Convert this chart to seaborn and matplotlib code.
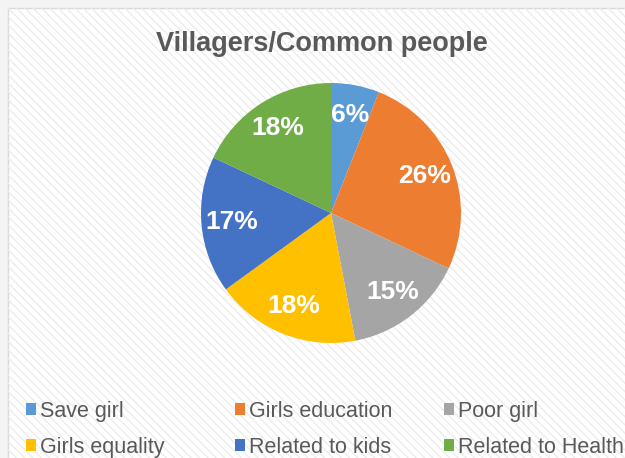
import matplotlib
matplotlib.use("Agg")
import matplotlib.pyplot as plt
import matplotlib.patches as mpatches
import seaborn as sns

# data
categories = ["Save girl", "Girls education", "Poor girl",
              "Girls equality", "Related to kids", "Related to Health"]
shares = [6, 26, 15, 18, 17, 18]
colors = ["#5B9BD5", "#ED7D31", "#A5A5A5", "#FFC000", "#4472C4", "#70AD47"]
title = "Villagers/Common people"

sns.set_theme(style="white")
plt.rcParams['font.family'] = ['Liberation Sans', 'DejaVu Sans']

W, H = 625, 458
fig = plt.figure(figsize=(W / 100, H / 100), dpi=100)
fig.patch.set_facecolor("#f4f4f4")

# chart area with faint diagonal stripes
bg = fig.add_axes([0, 0, 1, 1], zorder=0)
bg.set_axis_off()
bg.set_xlim(0, W)
bg.set_ylim(H, 0)
bg.add_patch(mpatches.Rectangle((8, 8), W, H, facecolor="#ffffff",
                                edgecolor="#d9d9d9", linewidth=1.0))
bg.add_patch(mpatches.Rectangle((8, 8), W, H, facecolor="none",
                                edgecolor="#ececec", hatch="\\\\\\\\",
                                linewidth=0))

# pie
cx, cy, r = 331, 213, 130
half = r * 1.25
ax = fig.add_axes([(cx - half) / W, (H - cy - half) / H, 2 * half / W, 2 * half / H],
                  zorder=1)
wedges, texts, autotexts = ax.pie(
    shares, colors=colors, startangle=90, counterclock=False,
    autopct=lambda p: f"{p:.0f}%", pctdistance=0.77,
    wedgeprops=dict(linewidth=0),
    textprops=dict(color="white", fontsize=19, fontweight="bold"))
ax.set_xlim(-1.25, 1.25)
ax.set_ylim(-1.25, 1.25)
ax.set_aspect("equal")

fig.text(322 / W, 1 - 44 / H, title, ha="center", va="center",
         fontsize=19.5, fontweight="bold", color="#595959")

# legend: three fixed-width columns, two rows
handles = [mpatches.Patch(facecolor=c, edgecolor="none") for c in colors]
col_x = [26, 235, 444]
for j, x0 in enumerate(col_x):
    idx = [j, j + 3]
    leg = fig.legend([handles[i] for i in idx], [categories[i] for i in idx],
                     loc="upper left", bbox_to_anchor=(x0 / W, 1 - 401 / H),
                     ncol=1, frameon=False, fontsize=15.5, handlelength=0.47,
                     handleheight=0.47, handletextpad=0.2, borderpad=0,
                     labelspacing=0.68, borderaxespad=0)
    for t in leg.get_texts():
        t.set_color("#595959")

fig.savefig("out.png", dpi=100)
